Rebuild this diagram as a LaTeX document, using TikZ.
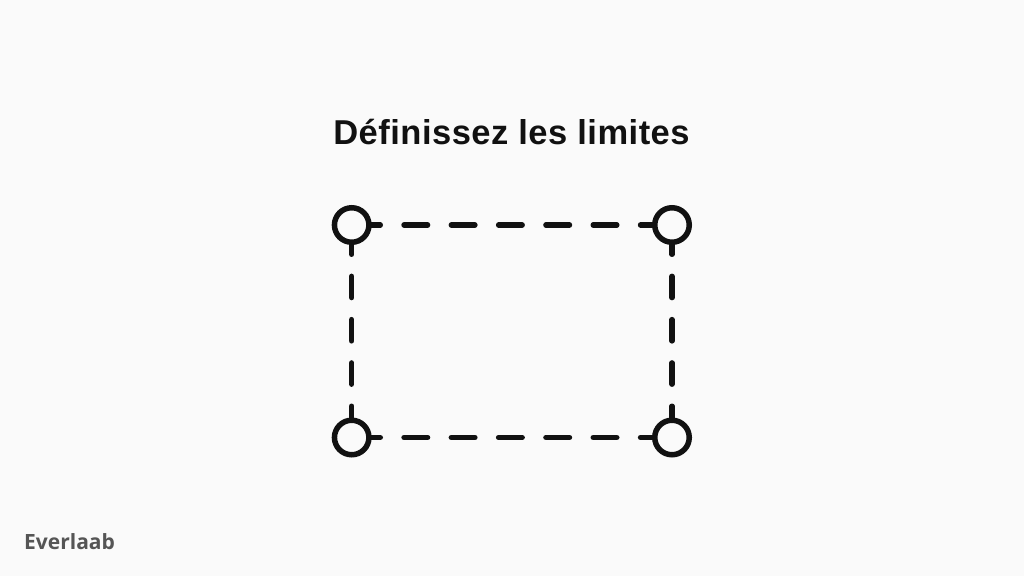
\documentclass[tikz,border=0pt]{standalone}
\usepackage{fontspec}
\setmainfont{Liberation Sans}
\newfontfamily\titlefont[LetterSpace=1.4]{Liberation Sans}
\newfontfamily\brandfont{Open Sans}
\definecolor{bgcol}{HTML}{FAFAFA}
\definecolor{inkcol}{HTML}{111111}
\definecolor{brandcol}{HTML}{555555}
\usetikzlibrary{positioning}

\begin{document}
\begin{tikzpicture}[x=1pt, y=1pt,
    corner/.style={circle, draw=inkcol, line width=5.5pt, minimum size=34.5pt, inner sep=0pt},
    hedge/.style={draw=inkcol, line width=5.5pt, line cap=round, dash pattern=on 23.5pt off 23.8pt, dash phase=14.95pt},
    vedge/.style={draw=inkcol, line width=5.5pt, line cap=round, dash pattern=on 21.2pt off 22.1pt, dash phase=11.95pt}]
    \fill[bgcol] (0,0) rectangle (1024,576);
    \useasboundingbox (0,0) rectangle (1024,576);

    \node[font=\titlefont\bfseries\fontsize{34.5}{38}\selectfont, text=inkcol, anchor=base] (title) at (511.5,431) {Définissez les limites};

    \node[corner] (TL) at (351.7,351) {};
    \node[corner] (TR) at (672,351) {};
    \node[corner] (BL) at (351.7,138.5) {};
    \node[corner] (BR) at (672,138.5) {};

    \draw[hedge] (TL) -- (TR);
    \draw[hedge] (BL) -- (BR);
    \draw[vedge] (TL) -- (BL);
    \draw[vedge] (TR) -- (BR);

    \node[font=\brandfont\bfseries\fontsize{21}{24}\selectfont, text=brandcol, anchor=base west, inner sep=0pt] (brand) at (24,26.7) {Everlaab};
\end{tikzpicture}
\end{document}
